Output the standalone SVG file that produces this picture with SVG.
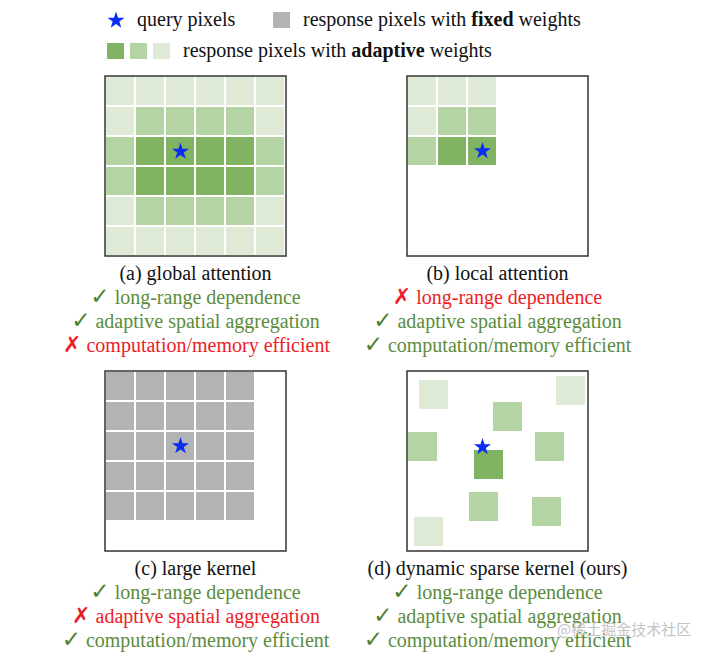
<svg xmlns="http://www.w3.org/2000/svg" xmlns:xlink="http://www.w3.org/1999/xlink" width="708" height="656" viewBox="0 0 708 656">
<style>
  text { font-family: "Liberation Serif", "Times New Roman", serif; font-size: 20px; }
  .cap { fill: #111; text-anchor: middle; }
  .ok { fill: #5b8c3c; text-anchor: middle; }
  .no { fill: #ee1c25; text-anchor: middle; }
  .ck { font-family: "DejaVu Sans", sans-serif; font-weight: bold; fill: #4f802f; font-size: 23px; }
  .xk { font-family: "DejaVu Sans", sans-serif; font-weight: bold; fill: #ee1c25; font-size: 22px; }
  .leg { fill: #111; }
  .box { fill: #fff; stroke: #333; stroke-width: 1.5; }
  .d { fill: #80b462; }
  .m { fill: #b5d4a4; }
  .l { fill: #dfead6; }
  .g { fill: #b3b3b3; }
  .star { fill: #0a2df5; }
  .wm { font-family: "Noto Sans CJK SC", sans-serif; font-size: 15px; fill: #c4c4c4; }
</style>
<defs>
  <polygon id="star" class="star" points="0,-9 2.06,-2.83 8.56,-2.78 3.33,1.08 5.29,7.28 0,3.5 -5.29,7.28 -3.33,1.08 -8.56,-2.78 -2.06,-2.83"/>
</defs>

<g id="legend">
  <use href="#star" x="116" y="20.5"/>
  <text class="leg" x="137" y="26">query pixels</text>
  <rect class="g" x="273" y="12" width="17" height="16" fill="#ababab"/>
  <text class="leg" x="303" y="26">response pixels with <tspan font-weight="bold">fixed</tspan> weights</text>
  <rect class="d" x="107" y="43" width="17" height="16"/>
  <rect class="m" x="130" y="43" width="17" height="16"/>
  <rect class="l" x="153" y="43" width="17" height="16"/>
  <text class="leg" x="183" y="57">response pixels with <tspan font-weight="bold">adaptive</tspan> weights</text>
</g>

<g id="panel-a">
  <rect class="box" x="105" y="76" width="181" height="180"/>
  <g transform="translate(105,76)">
    <rect class="l" x="1" y="1" width="28" height="28"/><rect class="l" x="31" y="1" width="28" height="28"/><rect class="l" x="61" y="1" width="28" height="28"/><rect class="l" x="91" y="1" width="28" height="28"/><rect class="l" x="121" y="1" width="28" height="28"/><rect class="l" x="151" y="1" width="28" height="28"/>
    <rect class="l" x="1" y="31" width="28" height="28"/><rect class="m" x="31" y="31" width="28" height="28"/><rect class="m" x="61" y="31" width="28" height="28"/><rect class="m" x="91" y="31" width="28" height="28"/><rect class="m" x="121" y="31" width="28" height="28"/><rect class="l" x="151" y="31" width="28" height="28"/>
    <rect class="m" x="1" y="61" width="28" height="28"/><rect class="d" x="31" y="61" width="28" height="28"/><rect class="d" x="61" y="61" width="28" height="28"/><rect class="d" x="91" y="61" width="28" height="28"/><rect class="d" x="121" y="61" width="28" height="28"/><rect class="m" x="151" y="61" width="28" height="28"/>
    <rect class="m" x="1" y="91" width="28" height="28"/><rect class="d" x="31" y="91" width="28" height="28"/><rect class="d" x="61" y="91" width="28" height="28"/><rect class="d" x="91" y="91" width="28" height="28"/><rect class="d" x="121" y="91" width="28" height="28"/><rect class="m" x="151" y="91" width="28" height="28"/>
    <rect class="l" x="1" y="121" width="28" height="28"/><rect class="m" x="31" y="121" width="28" height="28"/><rect class="m" x="61" y="121" width="28" height="28"/><rect class="m" x="91" y="121" width="28" height="28"/><rect class="m" x="121" y="121" width="28" height="28"/><rect class="l" x="151" y="121" width="28" height="28"/>
    <rect class="l" x="1" y="151" width="28" height="28"/><rect class="l" x="31" y="151" width="28" height="28"/><rect class="l" x="61" y="151" width="28" height="28"/><rect class="l" x="91" y="151" width="28" height="28"/><rect class="l" x="121" y="151" width="28" height="28"/><rect class="l" x="151" y="151" width="28" height="28"/>
  </g>
  <use href="#star" x="180.5" y="151.5"/>
  <text class="cap" x="195.5" y="280">(a) global attention</text>
  <text class="ok" x="195.5" y="304"><tspan class="ck">✓</tspan> long-range dependence</text>
  <text class="ok" x="195.5" y="328"><tspan class="ck">✓</tspan> adaptive spatial aggregation</text>
  <text class="no" x="196.5" y="352"><tspan class="xk">✗</tspan> computation/memory efficient</text>
</g>

<g id="panel-b">
  <rect class="box" x="407" y="76" width="181" height="180"/>
  <g transform="translate(407,76)">
    <rect class="l" x="1" y="1" width="28" height="28"/><rect class="l" x="31" y="1" width="28" height="28"/><rect class="l" x="61" y="1" width="28" height="28"/>
    <rect class="l" x="1" y="31" width="28" height="28"/><rect class="m" x="31" y="31" width="28" height="28"/><rect class="m" x="61" y="31" width="28" height="28"/>
    <rect class="m" x="1" y="61" width="28" height="28"/><rect class="d" x="31" y="61" width="28" height="28"/><rect class="d" x="61" y="61" width="28" height="28"/>
  </g>
  <use href="#star" x="482.5" y="151"/>
  <text class="cap" x="497.5" y="280">(b) local attention</text>
  <text class="no" x="497.5" y="304"><tspan class="xk">✗</tspan> long-range dependence</text>
  <text class="ok" x="497.5" y="328"><tspan class="ck">✓</tspan> adaptive spatial aggregation</text>
  <text class="ok" x="497.5" y="352"><tspan class="ck">✓</tspan> computation/memory efficient</text>
</g>

<g id="panel-c">
  <rect class="box" x="105" y="371" width="181" height="180"/>
  <g transform="translate(105,371)" class="g">
    <rect x="1" y="1" width="28" height="28"/><rect x="31" y="1" width="28" height="28"/><rect x="61" y="1" width="28" height="28"/><rect x="91" y="1" width="28" height="28"/><rect x="121" y="1" width="28" height="28"/>
    <rect x="1" y="31" width="28" height="28"/><rect x="31" y="31" width="28" height="28"/><rect x="61" y="31" width="28" height="28"/><rect x="91" y="31" width="28" height="28"/><rect x="121" y="31" width="28" height="28"/>
    <rect x="1" y="61" width="28" height="28"/><rect x="31" y="61" width="28" height="28"/><rect x="61" y="61" width="28" height="28"/><rect x="91" y="61" width="28" height="28"/><rect x="121" y="61" width="28" height="28"/>
    <rect x="1" y="91" width="28" height="28"/><rect x="31" y="91" width="28" height="28"/><rect x="61" y="91" width="28" height="28"/><rect x="91" y="91" width="28" height="28"/><rect x="121" y="91" width="28" height="28"/>
    <rect x="1" y="121" width="28" height="28"/><rect x="31" y="121" width="28" height="28"/><rect x="61" y="121" width="28" height="28"/><rect x="91" y="121" width="28" height="28"/><rect x="121" y="121" width="28" height="28"/>
  </g>
  <use href="#star" x="180.5" y="446"/>
  <text class="cap" x="195.5" y="575">(c) large kernel</text>
  <text class="ok" x="195.5" y="599"><tspan class="ck">✓</tspan> long-range dependence</text>
  <text class="no" x="196" y="623"><tspan class="xk">✗</tspan> adaptive spatial aggregation</text>
  <text class="ok" x="195.5" y="647"><tspan class="ck">✓</tspan> computation/memory efficient</text>
</g>

<g id="panel-d">
  <rect class="box" x="407" y="371" width="181" height="180"/>
  <rect class="l" x="419" y="380" width="29" height="29"/>
  <rect class="l" x="556" y="376" width="29" height="29"/>
  <rect class="m" x="493" y="402" width="29" height="29"/>
  <rect class="m" x="408" y="432" width="29" height="29"/>
  <rect class="m" x="535" y="432" width="29" height="29"/>
  <rect class="d" x="474" y="450" width="29" height="29"/>
  <rect class="m" x="469" y="492" width="29" height="29"/>
  <rect class="m" x="532" y="497" width="29" height="29"/>
  <rect class="l" x="414" y="517" width="29" height="29"/>
  <use href="#star" x="482.5" y="447"/>
  <text class="cap" x="497.5" y="575">(d) dynamic sparse kernel (ours)</text>
  <text class="ok" x="497.5" y="599"><tspan class="ck">✓</tspan> long-range dependence</text>
  <text class="ok" x="497.5" y="623"><tspan class="ck">✓</tspan> adaptive spatial aggregation</text>
  <text class="ok" x="497.5" y="647"><tspan class="ck">✓</tspan> computation/memory efficient</text>
</g>

<g id="connectors"/>

<text class="wm" x="557" y="635">@稀土掘金技术社区</text>
</svg>
